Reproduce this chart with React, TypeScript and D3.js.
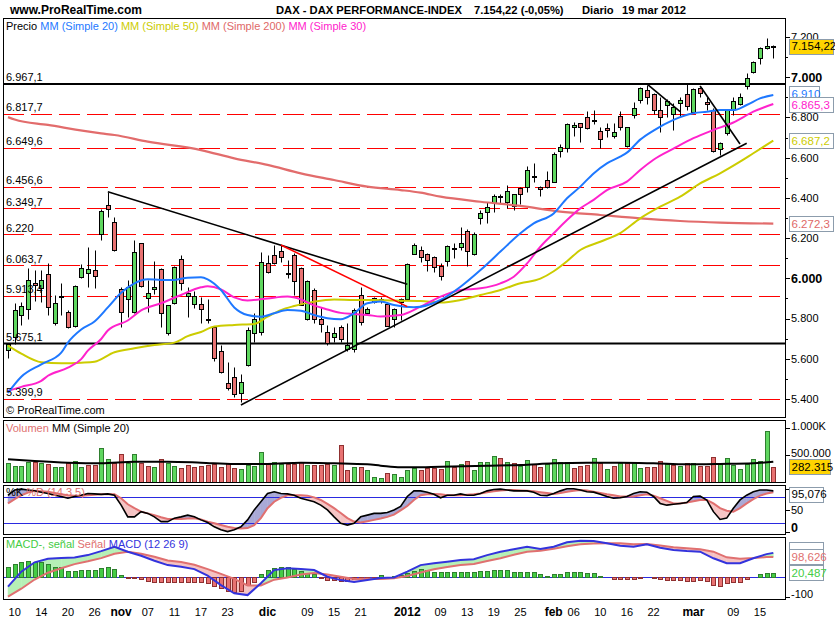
import React, { useEffect, useRef } from 'react';
import * as d3 from 'd3';

// Daily candles, 7 oct 2011 .. 19 mar 2012 (index 0 = 7 oct)
const opens = [
  5643, 5710, 5817, 5846, 5975, 5950, 6020, 5776, 5905, 5831,
  5764, 6008, 6025, 6041, 6220, 6365, 6278, 5945, 5895, 5831,
  6174, 5900, 5945, 6045, 5726, 5876, 6094, 5912, 5872, 5872,
  5800, 5759, 5640, 5481, 5507, 5428, 5569, 5726, 5735, 6074,
  6116, 6136, 6028, 6116, 6050, 5798, 5942, 5798, 5735, 5706,
  5759, 5647, 5647, 5917, 5826, 5900, 5897, 5872, 5796, 5884,
  5895, 6119, 6141, 6121, 6108, 6061, 6088, 6149, 6157, 6237,
  6119, 6298, 6328, 6376, 6408, 6381, 6361, 6448, 6453, 6511,
  6456, 6489, 6481, 6635, 6646, 6751, 6771, 6801, 6786, 6733,
  6746, 6710, 6808, 6658, 6812, 6887, 6937, 6917, 6837, 6862,
  6817, 6874, 6917, 6829, 6945, 6879, 6837, 6642, 6721, 6842,
  6867, 6957, 7028, 7094, 7144, 7149,
];
const highs = [
  5680, 5879, 5884, 6050, 6040, 6041, 6074, 5917, 5975, 5840,
  5967, 6070, 6157, 6141, 6345, 6431, 6307, 5955, 5992, 6190,
  6178, 5992, 6088, 6050, 5867, 6062, 6116, 5955, 5935, 5909,
  5895, 5763, 5668, 5585, 5560, 5524, 5759, 5826, 6133, 6116,
  6166, 6166, 6091, 6125, 6055, 5992, 5950, 5859, 5768, 5759,
  5768, 5776, 5851, 5958, 5855, 5909, 5905, 5884, 5851, 5900,
  6075, 6174, 6161, 6128, 6111, 6078, 6165, 6177, 6254, 6244,
  6232, 6340, 6381, 6419, 6419, 6464, 6420, 6456, 6559, 6572,
  6458, 6535, 6630, 6668, 6771, 6779, 6773, 6832, 6837, 6754,
  6771, 6774, 6832, 6754, 6879, 6953, 6962, 6920, 6904, 6890,
  6871, 6904, 6970, 6945, 6953, 6904, 6846, 6680, 6837, 6904,
  6920, 7020, 7080, 7152, 7194, 7160,
];
const lows = [
  5602, 5673, 5768, 5796, 5885, 5884, 5817, 5768, 5817, 5755,
  5760, 6000, 5958, 5950, 6191, 6307, 6138, 5760, 5809, 5825,
  5958, 5834, 5922, 5760, 5718, 5870, 5942, 5809, 5851, 5776,
  5776, 5590, 5531, 5444, 5411, 5385, 5564, 5685, 5718, 6025,
  6070, 6083, 6000, 5917, 5867, 5793, 5776, 5735, 5668, 5685,
  5685, 5640, 5635, 5768, 5820, 5875, 5875, 5764, 5759, 5793,
  5890, 6119, 6083, 6038, 6033, 5992, 6063, 6099, 6141, 6061,
  6115, 6269, 6277, 6332, 6376, 6348, 6340, 6368, 6428, 6481,
  6411, 6448, 6478, 6605, 6630, 6708, 6680, 6741, 6768, 6646,
  6705, 6696, 6738, 6652, 6796, 6874, 6867, 6817, 6730, 6801,
  6738, 6804, 6837, 6821, 6904, 6837, 6630, 6614, 6713, 6813,
  6862, 6940, 7020, 7065, 7140, 7094,
];
const closes = [
  5675, 5842, 5862, 5992, 5965, 5992, 5856, 5876, 5912, 5760,
  5963, 6050, 6045, 6013, 6335, 6345, 6141, 5831, 5958, 6129,
  5962, 5925, 5955, 5826, 5867, 6055, 5978, 5929, 5912, 5846,
  5796, 5602, 5536, 5453, 5425, 5486, 5743, 5796, 6083, 6033,
  6078, 6104, 6022, 5988, 5867, 5987, 5796, 5773, 5677, 5726,
  5696, 5668, 5842, 5784, 5847, 5884, 5887, 5764, 5846, 5895,
  6071, 6166, 6108, 6091, 6055, 6013, 6161, 6145, 6174, 6138,
  6219, 6327, 6353, 6411, 6404, 6433, 6418, 6421, 6539, 6507,
  6443, 6456, 6618, 6652, 6768, 6763, 6751, 6746, 6782, 6691,
  6738, 6726, 6754, 6751, 6846, 6945, 6904, 6837, 6804, 6884,
  6854, 6887, 6857, 6940, 6920, 6867, 6633, 6672, 6837, 6882,
  6900, 6995, 7078, 7144, 7158, 7154.22,
];

// volume in thousands
const volumes = [
  348, 305, 299, 378, 378, 348, 329, 287, 275, 348,
  390, 287, 317, 317, 622, 427, 360, 512, 348, 512,
  360, 305, 281, 427, 360, 305, 256, 317, 275, 305,
  317, 329, 275, 348, 256, 238, 317, 299, 549, 329,
  366, 329, 329, 329, 366, 317, 317, 317, 329, 317,
  683, 226, 287, 287, 226, 104, 73, 165, 146, 104,
  226, 268, 226, 256, 256, 244, 390, 287, 329, 390,
  226, 366, 366, 476, 439, 366, 348, 305, 409, 329,
  287, 329, 427, 366, 366, 256, 299, 317, 439, 348,
  244, 299, 348, 348, 378, 256, 287, 287, 390, 329,
  317, 299, 348, 348, 305, 305, 458, 329, 439, 317,
  244, 329, 427, 390, 939, 282.315,
];
const volMaIdx = [0, 4, 9, 14, 19, 24, 29, 34, 39, 44, 49, 54, 56, 59, 61, 65, 72, 77, 82, 87, 92, 97, 102, 107, 112, 115];
const volMaVal = [421, 390, 360, 348, 378, 378, 360, 336, 336, 360, 348, 329, 305, 275, 275, 287, 305, 317, 348, 360, 360, 348, 329, 336, 348, 378];

// moving averages (index, value)
const ma20Idx = [0, 2, 5, 8, 9, 11, 13, 15, 17, 19, 21, 23, 25, 27, 29, 30, 32, 34, 36, 38, 40, 42, 44, 46, 48, 50, 52, 54, 56, 58, 61, 65, 68, 71, 74, 77, 79, 82, 84, 86, 88, 90, 92, 93, 95, 97, 100, 103, 105, 107, 109, 111, 113, 115];
const ma20Val = [5430, 5510, 5572, 5630, 5680, 5745, 5785, 5855, 5928, 5975, 5995, 5992, 5992, 6003, 6005, 5995, 5942, 5855, 5817, 5809, 5826, 5842, 5839, 5817, 5801, 5796, 5826, 5876, 5884, 5867, 5856, 5892, 5958, 6041, 6133, 6224, 6273, 6323, 6398, 6456, 6522, 6572, 6605, 6625, 6690, 6735, 6788, 6821, 6829, 6837, 6837, 6862, 6895, 6912];
const ma30Idx = [0, 2, 5, 6, 9, 11, 12, 14, 15, 18, 20, 23, 26, 29, 30, 32, 34, 36, 39, 42, 44, 46, 48, 50, 52, 54, 56, 59, 62, 65, 68, 71, 74, 76, 78, 80, 82, 84, 86, 88, 90, 93, 95, 97, 100, 103, 106, 109, 112, 115];
const ma30Val = [5440, 5460, 5490, 5515, 5555, 5598, 5640, 5698, 5740, 5790, 5840, 5876, 5917, 5955, 5960, 5945, 5905, 5890, 5900, 5909, 5895, 5865, 5845, 5828, 5822, 5818, 5810, 5817, 5859, 5909, 5942, 5950, 5975, 6008, 6074, 6157, 6224, 6290, 6348, 6390, 6439, 6481, 6539, 6590, 6645, 6697, 6738, 6775, 6829, 6867];
const ma50Idx = [0, 2, 5, 8, 11, 13, 16, 19, 22, 25, 27, 29, 31, 34, 37, 39, 41, 43, 46, 49, 52, 55, 58, 62, 65, 68, 71, 74, 77, 80, 82, 84, 86, 89, 92, 95, 98, 101, 104, 107, 110, 112, 115];
const ma50Val = [5665, 5625, 5582, 5577, 5580, 5585, 5632, 5652, 5668, 5680, 5712, 5733, 5760, 5768, 5773, 5809, 5842, 5862, 5884, 5895, 5892, 5892, 5889, 5887, 5879, 5892, 5917, 5942, 5975, 5998, 6035, 6085, 6141, 6182, 6225, 6298, 6356, 6406, 6472, 6522, 6580, 6622, 6685];
const ma200Idx = [0, 1, 6, 14, 16, 21, 29, 34, 39, 44, 49, 54, 59, 62, 65, 71, 77, 83, 89, 95, 101, 107, 115];
const ma200Val = [6802, 6790, 6763, 6721, 6713, 6680, 6638, 6597, 6564, 6522, 6489, 6456, 6439, 6426, 6406, 6381, 6360, 6332, 6315, 6298, 6285, 6277, 6272];

// stochastic %K / %D (14 3 5)
const stochK = [
  85, 97, 99, 97, 95, 92, 89, 85, 82, 78,
  82, 85, 89, 88, 87, 88, 85, 62, 35, 35,
  47, 43, 35, 24, 24, 32, 35, 39, 35, 28,
  22, 12, 5, 1, 5, 12, 28, 51, 70, 89,
  93, 89, 88, 85, 78, 74, 70, 62, 51, 35,
  20, 16, 20, 35, 39, 43, 43, 45, 51, 59,
  82, 95, 95, 92, 87, 79, 85, 85, 88, 85,
  85, 89, 95, 98, 99, 97, 95, 95, 95, 92,
  85, 84, 89, 95, 100, 100, 97, 93, 92, 87,
  82, 78, 79, 82, 89, 93, 92, 82, 66, 62,
  64, 66, 68, 82, 83, 74, 47, 29, 32, 55,
  74, 85, 93, 97, 97, 95.076,
];
const stochD = [
  66, 76, 85, 91, 95, 94, 93, 90, 87, 85,
  84, 84, 85, 86, 87, 87, 87, 78, 64, 55,
  47, 43, 39, 34, 30, 30, 30, 31, 32, 29,
  24, 20, 16, 12, 9, 8, 9, 16, 32, 55,
  70, 79, 85, 85, 85, 84, 80, 74, 65, 55,
  44, 32, 24, 22, 25, 28, 31, 35, 40, 50,
  60, 74, 85, 87, 88, 87, 85, 85, 85, 86,
  87, 89, 92, 94, 96, 97, 97, 96, 95, 94,
  92, 90, 88, 90, 93, 95, 97, 96, 93, 90,
  87, 85, 82, 82, 82, 85, 87, 84, 78, 72,
  66, 66, 68, 71, 74, 74, 66, 55, 49, 47,
  55, 66, 76, 84, 89, 92,
];

// MACD (12 26 9)
const macdHist = [
  50, 63, 75, 80, 75, 75, 63, 47, 47, 28,
  28, 33, 33, 33, 42, 47, 38, 8, -8, -5,
  -12, -20, -28, -28, -25, -25, -25, -25, -25, -28,
  -33, -47, -58, -72, -75, -72, -42, -25, 12, 33,
  42, 47, 47, 38, 28, 17, 12, -5, -17, -17,
  -20, -20, -12, -8, -5, -3, 8, -3, 3, 8,
  20, 28, 38, 33, 25, 25, 25, 25, 22, 22,
  25, 28, 28, 32, 32, 32, 25, 25, 22, 22,
  12, 5, 12, 15, 22, 22, 22, 17, 17, 5,
  0, -12, -12, -12, -12, -8, 0, -8, -13, -17,
  -17, -17, -20, -20, -17, -20, -42, -45, -33, -28,
  -25, -12, 0, 12, 17, 20.487,
];
const macdIdx = [
  0, 2, 4, 6, 8, 10, 12, 14, 16, 18, 20, 22, 24, 26, 28, 30, 32, 34, 36, 38,
  40, 42, 44, 46, 48, 50, 52, 54, 56, 58, 60, 62, 64, 66, 68, 70, 72, 74, 76, 78,
  80, 82, 84, 86, 88, 90, 92, 94, 96, 98, 100, 102, 104, 106, 108, 110, 112, 114, 115,
];
const macdLine = [
  -50, 25, 72, 90, 94, 96, 108, 128, 150, 125, 105, 80, 58, 50, 38, 5, -42, -83, -92, -33,
  33, 42, 38, 33, 0, -17, -26, -16, -6, -4, 25, 58, 67, 75, 83, 87, 108, 125, 137, 150,
  138, 150, 172, 180, 178, 167, 155, 150, 162, 145, 133, 128, 125, 92, 67, 67, 92, 113, 119.1,
];
const macdSignal = [
  -100, -60, -14, 20, 42, 63, 77, 93, 115, 125, 115, 100, 81, 73, 60, 38, 14, -11, -44, -44,
  -15, -4, 11, 18, 11, 0, -12, -10, -12, -8, 4, 21, 37, 48, 58, 63, 78, 92, 110, 125,
  130, 140, 152, 162, 166, 167, 167, 162, 163, 156, 147, 142, 137, 125, 97, 90, 93, 98, 98.626,
];

// horizontal levels and drawn trend lines
const solidLevels = [6967.1, 5675.1];
const solidLabels = ["6.967,1", "5.675,1"];
const dashedLevels = [6817.7, 6649.6, 6456.6, 6349.7, 6220, 6063.7, 5913.4, 5399.9];
const dashedLabels = ["6.817,7", "6.649,6", "6.456,6", "6.349,7", "6.220", "6.063,7", "5.913,4", "5.399,9"];
const trendLines = [
  [15, 6431, 60, 5970],
  [41, 6166, 60, 5859],
  [35, 5370, 111, 6672],
  [96, 6967, 101, 6829],
  [104, 6957, 110, 6668],
];

const priceTicks = [5400, 5600, 5800, 6000, 6200, 6400, 6600, 6800, 7000, 7200];
const priceTickLabels = ["5.400", "5.600", "5.800", "6.000", "6.200", "6.400", "6.600", "6.800", "7.000", "7.200"];
const xTickIdx = [1, 5, 9, 13, 17, 21, 25, 29, 33, 39, 45, 49, 53, 60, 65, 69, 73, 77, 82, 85, 89, 93, 97, 103, 109, 113];
const xTickLabels = ["10", "14", "20", "26", "nov", "07", "11", "17", "23", "dic", "09", "15", "21", "2012", "09", "13", "19", "25", "feb", "06", "10", "16", "22", "mar", "09", "15"];

const GREEN = "#5fd75f";
const RED = "#e87272";
const SALMON = "#e07070";

type Sel = d3.Selection<SVGGElement, unknown, null, undefined>;

function fillBetween(g: Sel, idx: number[], a: number[], b: number[],
  xs: d3.ScaleLinear<number, number>, ys: d3.ScaleLinear<number, number>, up: string, down: string) {
  for (let k = 0; k < idx.length - 1; k++) {
    const x0 = idx[k], x1 = idx[k + 1];
    const d0 = a[k] - b[k], d1 = a[k + 1] - b[k + 1];
    const polys: [number, number][][] = [];
    const cols: string[] = [];
    if (d0 * d1 < 0) {
      const t = d0 / (d0 - d1);
      const xc = x0 + t * (x1 - x0);
      const vc = a[k] + t * (a[k + 1] - a[k]);
      polys.push([[x0, a[k]], [xc, vc], [x0, b[k]]]);
      cols.push(d0 > 0 ? up : down);
      polys.push([[xc, vc], [x1, a[k + 1]], [x1, b[k + 1]]]);
      cols.push(d1 > 0 ? up : down);
    } else {
      polys.push([[x0, a[k]], [x1, a[k + 1]], [x1, b[k + 1]], [x0, b[k]]]);
      cols.push(d0 + d1 >= 0 ? up : down);
    }
    polys.forEach((p, j) => {
      g.append("polygon")
        .attr("points", p.map(([i, v]) => `${xs(i)},${ys(v)}`).join(" "))
        .attr("fill", cols[j])
        .attr("stroke", cols[j])
        .attr("stroke-width", 0.5);
    });
  }
}

const App: React.FC = () => {
  const svgRef = useRef<SVGSVGElement>(null);

  useEffect(() => {
    if (!svgRef.current) return;
    const svg = d3.select(svgRef.current);
    svg.selectAll("*").remove();

    const font = "'Liberation Sans', Arial, sans-serif";
    const left = 3, right = 785;
    const panels = {
      main: [18, 417],
      vol: [420, 482],
      sto: [485, 534],
      mac: [537, 599],
    };

    const x = d3.scaleLinear().domain([0, 115]).range([8, 773.3]);
    const y = d3.scaleLinear().domain([5400, 7200]).range([398.9, 37.1]);
    const yVol = d3.scaleLinear().domain([0, 1000]).range([482.3, 427.7]);
    const ySto = d3.scaleLinear().domain([0, 100]).range([532, 488.7]);
    const yMac = d3.scaleLinear().domain([-100, 100]).range([596.7, 556.7]);
    const px = (i: number) => Math.round(x(i));
    const py = (v: number, s: d3.ScaleLinear<number, number>) => Math.round(s(v)) + 0.5;

    svg.append("rect").attr("width", 835).attr("height", 620).attr("fill", "#fff");

    const defs = svg.append("defs");
    Object.entries(panels).forEach(([k, [t, b]]) => {
      defs.append("clipPath").attr("id", `clip-${k}`)
        .append("rect").attr("x", left).attr("y", t).attr("width", right - left).attr("height", b - t);
    });

    // header
    svg.append("text").attr("x", 10).attr("y", 14).attr("font-family", font)
      .attr("font-size", 12).attr("font-weight", "bold").text("www.ProRealTime.com");
    const head = [[276, "DAX - DAX PERFORMANCE-INDEX"], [474, "7.154,22 (-0,05%)"], [582, "Diario"], [622, "19 mar 2012"]];
    head.forEach(([hx, t]) => {
      svg.append("text").attr("x", hx as number).attr("y", 14).attr("font-family", font)
        .attr("font-size", 11.2).attr("font-weight", "bold").text(t as string);
    });

    // ---------- price panel ----------
    const gm = svg.append("g").attr("clip-path", "url(#clip-main)");

    dashedLevels.forEach(v => {
      gm.append("line").attr("x1", left).attr("x2", right)
        .attr("y1", py(v, y)).attr("y2", py(v, y))
        .attr("stroke", "#ff0000").attr("stroke-width", 1.1).attr("stroke-dasharray", "21,7");
    });
    solidLevels.forEach(v => {
      gm.append("line").attr("x1", left).attr("x2", right)
        .attr("y1", y(v)).attr("y2", y(v))
        .attr("stroke", "#000").attr("stroke-width", 2);
    });

    // candles
    opens.forEach((o, i) => {
      const c = closes[i];
      const xi = px(i);
      gm.append("line").attr("x1", xi + 0.5).attr("x2", xi + 0.5)
        .attr("y1", py(highs[i], y)).attr("y2", py(lows[i], y))
        .attr("stroke", "#000").attr("stroke-width", 1);
      const top = py(Math.max(o, c), y);
      const bot = py(Math.min(o, c), y);
      gm.append("rect").attr("x", xi - 1.5).attr("width", 4)
        .attr("y", top).attr("height", Math.max(1, bot - top))
        .attr("fill", c >= o ? GREEN : RED)
        .attr("stroke", "#000").attr("stroke-width", 1);
    });

    // moving averages
    const maLine = d3.line<number>().curve(d3.curveMonotoneX);
    const drawMa = (idx: number[], val: number[], color: string, w: number) => {
      gm.append("path")
        .attr("d", maLine.x((_, k) => x(idx[k])).y(d => y(d))(val))
        .attr("fill", "none").attr("stroke", color).attr("stroke-width", w);
    };
    drawMa(ma200Idx, ma200Val, "#e26c6c", 2.2);
    drawMa(ma50Idx, ma50Val, "#cccc00", 2);
    drawMa(ma30Idx, ma30Val, "#ff22cc", 2);
    drawMa(ma20Idx, ma20Val, "#1e78ff", 2);

    // drawn trend lines
    trendLines.forEach(([i0, v0, i1, v1], k) => {
      gm.append("line").attr("x1", x(i0)).attr("y1", y(v0)).attr("x2", x(i1)).attr("y2", y(v1))
        .attr("stroke", k === 1 ? "#ff0000" : "#000").attr("stroke-width", 1.6);
    });

    // level labels
    solidLevels.forEach((v, k) => {
      svg.append("text").attr("x", 6).attr("y", y(v) - 2.5).attr("font-family", font)
        .attr("font-size", 11).text(solidLabels[k]);
    });
    dashedLevels.forEach((v, k) => {
      svg.append("text").attr("x", 6).attr("y", y(v) - 2.5).attr("font-family", font)
        .attr("font-size", 11).text(dashedLabels[k]);
    });

    // legend
    const leg = svg.append("text").attr("x", 6).attr("y", 30).attr("font-family", font).attr("font-size", 11);
    [["Precio ", "#000"], ["MM (Simple 20) ", "#1e78ff"], ["MM (Simple 50) ", "#cccc00"],
      ["MM (Simple 200) ", "#e06868"], ["MM (Simple 30)", "#ff22cc"]].forEach(([t, c]) => {
      leg.append("tspan").attr("fill", c).attr("xml:space", "preserve").text(t);
    });
    svg.append("text").attr("x", 6).attr("y", 414).attr("font-family", font)
      .attr("font-size", 11).text("© ProRealTime.com");

    // price axis
    const axisG = svg.append("g").attr("font-family", font);
    d3.range(5500, 7200, 200).forEach(v => {
      axisG.append("line").attr("x1", right).attr("x2", right + 3)
        .attr("y1", py(v, y)).attr("y2", py(v, y)).attr("stroke", "#000");
    });
    priceTicks.forEach((v, k) => {
      const bold = v === 6000 || v === 7000;
      axisG.append("line").attr("x1", right).attr("x2", right + 5)
        .attr("y1", py(v, y)).attr("y2", py(v, y)).attr("stroke", "#000");
      axisG.append("text").attr("x", 791).attr("y", y(v)).attr("dy", "0.35em")
        .attr("font-size", bold ? 12.5 : 11).attr("font-weight", bold ? "bold" : "normal")
        .text(priceTickLabels[k]);
    });

    const boxRect = (yc: number, w: number, bg: string) => {
      svg.append("rect").attr("x", 789.5).attr("y", Math.round(yc - 7.5) + 0.5)
        .attr("width", w).attr("height", 15)
        .attr("fill", bg).attr("stroke", "#8c9cac").attr("stroke-width", 1);
    };
    const valueBox = (yc: number, t: string, color: string, bg: string, w: number) => {
      boxRect(yc, w, bg);
      svg.append("text").attr("x", 791.5).attr("y", yc).attr("dy", "0.36em")
        .attr("font-family", font).attr("font-size", 11.5).attr("fill", color).text(t);
    };
    valueBox(y(closes[115]), "7.154,22", "#000", "#ffd400", 44);
    valueBox(y(ma20Val[ma20Val.length - 1]) - 1, "6.910", "#1e78ff", "#fff", 30);
    valueBox(y(ma30Val[ma30Val.length - 1]) + 0.5, "6.865,3", "#ff22cc", "#fff", 44);
    valueBox(y(ma50Val[ma50Val.length - 1]), "6.687,2", "#cccc00", "#fff", 44);
    valueBox(y(ma200Val[ma200Val.length - 1]), "6.272,3", "#e06868", "#fff", 44);

    // ---------- volume panel ----------
    const gv = svg.append("g").attr("clip-path", "url(#clip-vol)");
    volumes.forEach((v, i) => {
      const up = i === 0 ? closes[0] >= opens[0] : closes[i] >= closes[i - 1];
      const xi = px(i);
      const top = py(v, yVol);
      gv.append("rect").attr("x", xi - 1.5).attr("width", 4)
        .attr("y", top).attr("height", 482.5 - top)
        .attr("fill", up ? GREEN : RED).attr("stroke", up ? "#2f7f2f" : "#8f3030").attr("stroke-width", 1);
    });
    gv.append("path")
      .attr("d", d3.line<number>().x((_, k) => x(volMaIdx[k])).y(d => yVol(d)).curve(d3.curveMonotoneX)(volMaVal))
      .attr("fill", "none").attr("stroke", "#000").attr("stroke-width", 2);
    const vleg = svg.append("text").attr("x", 6).attr("y", 432).attr("font-family", font).attr("font-size", 11);
    vleg.append("tspan").attr("fill", SALMON).text("Volumen ");
    vleg.append("tspan").attr("fill", "#000").text("MM (Simple 20)");
    [[1000, "1.000K"], [500, "500.000"]].forEach(([v, t]) => {
      svg.append("line").attr("x1", right).attr("x2", right + 5)
        .attr("y1", py(v as number, yVol)).attr("y2", py(v as number, yVol)).attr("stroke", "#000");
      svg.append("text").attr("x", 791).attr("y", yVol(v as number) - 2).attr("dy", "0.35em")
        .attr("font-family", font).attr("font-size", 11).text(t as string);
    });
    valueBox(yVol(volumes[115]), "282.315", "#000", "#ffd400", 41);

    // ---------- stochastic panel ----------
    const gs = svg.append("g").attr("clip-path", "url(#clip-sto)");
    const allIdx = d3.range(stochK.length);
    fillBetween(gs, allIdx, stochK, stochD, x, ySto, "#a9a9d6", "#f5c4c4");
    [80, 20].forEach(v => {
      gs.append("line").attr("x1", left).attr("x2", right)
        .attr("y1", py(v, ySto)).attr("y2", py(v, ySto))
        .attr("stroke", "#2a2ae0").attr("stroke-width", 1);
    });
    gs.append("path").attr("d", d3.line<number>().x((_, k) => x(k)).y(d => ySto(d))(stochD))
      .attr("fill", "none").attr("stroke", SALMON).attr("stroke-width", 2);
    gs.append("path").attr("d", d3.line<number>().x((_, k) => x(k)).y(d => ySto(d))(stochK))
      .attr("fill", "none").attr("stroke", "#000").attr("stroke-width", 1.6);
    const sleg = svg.append("text").attr("x", 6).attr("y", 496).attr("font-family", font).attr("font-size", 11);
    sleg.append("tspan").attr("fill", "#000").text("%K ");
    sleg.append("tspan").attr("fill", SALMON).text("%D (14 3 5)");
    [100, 50, 0].forEach(v => {
      svg.append("line").attr("x1", right).attr("x2", right + 5)
        .attr("y1", py(v, ySto)).attr("y2", py(v, ySto)).attr("stroke", "#000");
    });
    svg.append("text").attr("x", 791).attr("y", ySto(50)).attr("dy", "0.35em")
      .attr("font-family", font).attr("font-size", 11).text("50");
    svg.append("text").attr("x", 791).attr("y", ySto(0) - 4).attr("dy", "0.35em")
      .attr("font-family", font).attr("font-size", 12.5).attr("font-weight", "bold").text("0");
    valueBox(Math.max(494, ySto(stochK[115])), "95,076", "#000", "#fff", 34);

    // ---------- MACD panel ----------
    const gc = svg.append("g").attr("clip-path", "url(#clip-mac)");
    fillBetween(gc, macdIdx, macdLine, macdSignal, x, yMac, "#b6f0b6", "#f5c2c2");
    gc.append("line").attr("x1", left).attr("x2", right)
      .attr("y1", py(0, yMac)).attr("y2", py(0, yMac))
      .attr("stroke", "#2a2ae0").attr("stroke-width", 1);
    macdHist.forEach((h, i) => {
      if (h === 0) return;
      const xi = px(i);
      const y0 = py(0, yMac), y1 = py(h, yMac);
      gc.append("rect").attr("x", xi - 1.5).attr("width", 4)
        .attr("y", Math.min(y0, y1)).attr("height", Math.max(1, Math.abs(y1 - y0)))
        .attr("fill", h > 0 ? "#44cc44" : RED)
        .attr("stroke", h > 0 ? "#2f7f2f" : "#8f3030").attr("stroke-width", 1);
    });
    gc.append("path").attr("d", d3.line<number>().x((_, k) => x(macdIdx[k])).y(d => yMac(d))(macdSignal))
      .attr("fill", "none").attr("stroke", SALMON).attr("stroke-width", 2);
    gc.append("path").attr("d", d3.line<number>().x((_, k) => x(macdIdx[k])).y(d => yMac(d))(macdLine))
      .attr("fill", "none").attr("stroke", "#3333dd").attr("stroke-width", 2);
    const mleg = svg.append("text").attr("x", 6).attr("y", 548).attr("font-family", font).attr("font-size", 11);
    mleg.append("tspan").attr("fill", "#44cc44").text("MACD-, señal ");
    mleg.append("tspan").attr("fill", SALMON).text("Señal ");
    mleg.append("tspan").attr("fill", "#3333dd").text("MACD (12 26 9)");
    svg.append("line").attr("x1", right).attr("x2", right + 5)
      .attr("y1", py(-100, yMac)).attr("y2", py(-100, yMac)).attr("stroke", "#000");
    svg.append("text").attr("x", 791).attr("y", yMac(-100) - 3).attr("dy", "0.35em")
      .attr("font-family", font).attr("font-size", 11).text("-100");
    // the MACD value box sits behind the signal box, only its top edge shows
    boxRect(yMac(macdLine[macdLine.length - 1]) - 3, 34, "#fff");
    valueBox(yMac(macdSignal[macdSignal.length - 1]), "98,626", SALMON, "#fff", 34);
    valueBox(yMac(macdHist[115]), "20,487", "#44cc44", "#fff", 34);

    // frames
    Object.values(panels).forEach(([t, b]) => {
      svg.append("rect").attr("x", left + 0.5).attr("y", t + 0.5)
        .attr("width", right - left).attr("height", b - t)
        .attr("fill", "none").attr("stroke", "#000").attr("stroke-width", 1);
    });

    // date axis
    xTickIdx.forEach((i, k) => {
      const t = xTickLabels[k];
      const bold = t.length !== 2;
      svg.append("text").attr("x", x(i)).attr("y", 616).attr("text-anchor", "middle")
        .attr("font-family", font).attr("font-size", bold ? 12 : 11)
        .attr("font-weight", bold ? "bold" : "normal").text(t);
    });
  }, []);

  return (
    <div style={{ position: 'absolute', left: 0, top: 0 }}>
      <svg ref={svgRef} width="835" height="620" style={{ display: 'block' }}></svg>
    </div>
  );
};

export default App;
